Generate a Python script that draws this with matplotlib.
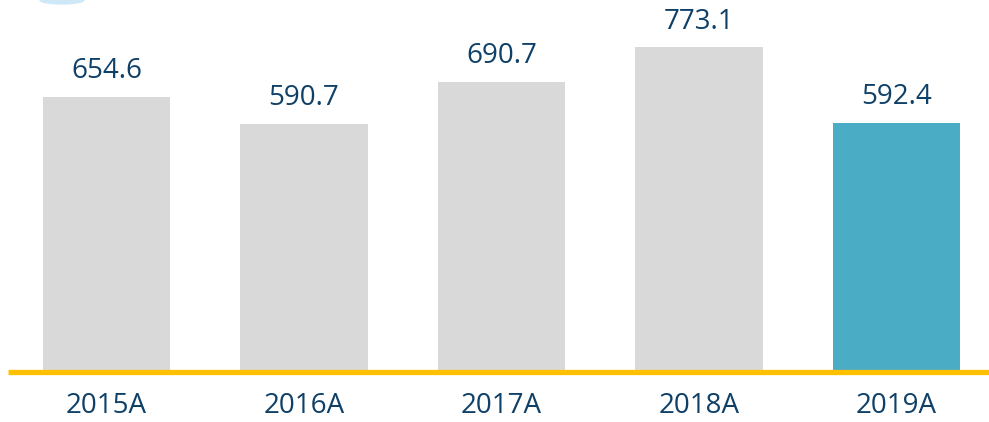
import matplotlib.pyplot as plt
from matplotlib.patches import Ellipse

# data
years = ['2015A', '2016A', '2017A', '2018A', '2019A']
values = [654.6, 590.7, 690.7, 773.1, 592.4]
colors = ['#d9d9d9', '#d9d9d9', '#d9d9d9', '#d9d9d9', '#4bacc6']
text_color = '#0f4068'

fig = plt.figure(figsize=(9.89, 4.22), dpi=100)
ax = fig.add_axes([8/989, 50/422, 981/989, 372/422])

x = list(range(len(years)))
ax.bar(x, values, width=0.645, color=colors, zorder=2)
ax.axhline(0, color='#ffc000', lw=3.8, zorder=3, clip_on=False,
           solid_capstyle='butt')

for xi, v in zip(x, values):
    ax.text(xi, v + 28, f'{v:.1f}', ha='center', va='bottom',
            fontsize=20, color=text_color, family='Open Sans')
    ax.text(xi, -80, years[xi], ha='center', va='center',
            fontsize=20, color=text_color, family='Open Sans')

ax.set_xlim(-0.499, 4.468)
ax.set_ylim(0, 885.7)
ax.axis('off')

# small decorative arc in top-left corner
fig.patches.append(Ellipse((62/989, 1.0), 44/989, 8/422, transform=fig.transFigure,
                           color='#cfe8f7', zorder=0))

fig.savefig('out.png', dpi=100)
